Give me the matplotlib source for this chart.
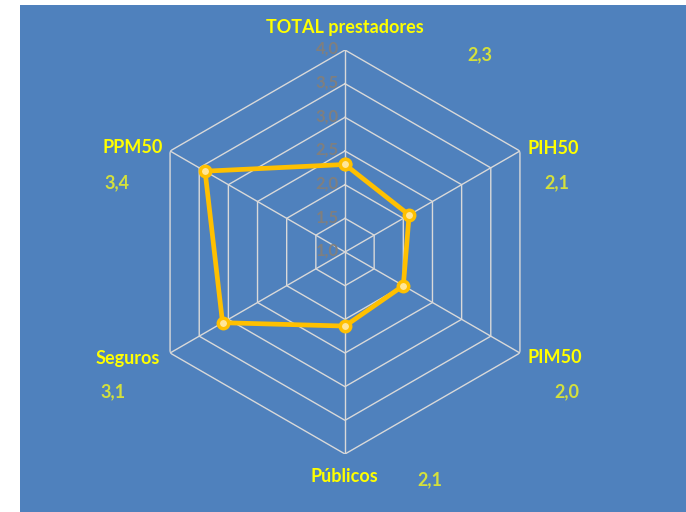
import numpy as np
import matplotlib
matplotlib.use("Agg")
import matplotlib.pyplot as plt
from matplotlib.patches import Rectangle

categories = ["TOTAL prestadores", "PIH50", "PIM50", "Públicos", "Seguros", "PPM50"]
values = [2.3, 2.1, 2.0, 2.1, 3.1, 3.4]
value_labels = ["2,3", "2,1", "2,0", "2,1", "3,1", "3,4"]
ticks = [1.0, 1.5, 2.0, 2.5, 3.0, 3.5, 4.0]
tick_labels = ["1,0", "1,5", "2,0", "2,5", "3,0", "3,5", "4,0"]

BG = "#4F81BD"
GRID = "#D9D9D9"
LINE = "#FFC000"
CAT_COLOR = "#FFFF00"
VAL_COLOR = "#D4E03C"
TICK_COLOR = "#7F7F7F"

plt.rcParams["font.family"] = ["Lato", "DejaVu Sans"]

fig = plt.figure(figsize=(6.86, 5.12), dpi=100)
fig.patches.append(Rectangle((20 / 686, 0), 666 / 686, 507 / 512,
                             transform=fig.transFigure, facecolor=BG,
                             edgecolor="none", zorder=-10))

ax = fig.add_axes([143 / 686, 58 / 512, 404 / 686, 404 / 512], projection="polar")
ax.set_zorder(1)
ax.set_theta_zero_location("N")
ax.set_theta_direction(-1)
ax.set_ylim(ticks[0], ticks[-1])
ax.patch.set_visible(False)
ax.spines["polar"].set_visible(False)
ax.grid(False)
ax.set_xticks([])
ax.set_yticks([])

n = len(categories)
angles = np.linspace(0, 2 * np.pi, n, endpoint=False)
closed = np.append(angles, angles[0])

# hexagonal grid rings and spokes
for r in ticks[1:]:
    ax.plot(closed, [r] * (n + 1), color=GRID, lw=1.0, zorder=1)
for a in angles:
    ax.plot([a, a], [ticks[0], ticks[-1]], color=GRID, lw=1.0, zorder=1)

# radial tick labels along the top spoke
for r, lab in zip(ticks, tick_labels):
    ax.annotate(lab, xy=(0, r), xytext=(-6, 1), textcoords="offset pixels",
                ha="right", va="center", fontsize=12, fontweight="bold",
                color=TICK_COLOR, zorder=2)

# data series
vals = np.append(values, values[0])
ax.plot(closed, vals, color=LINE, lw=3.4, zorder=3,
        marker="o", markersize=7.5, markerfacecolor="#FFE699",
        markeredgecolor=LINE, markeredgewidth=2.5)

# category and value labels around the outer ring
cat_offsets = [(0, 23), (33, 3), (35, -5), (-1, -22), (-42, -5), (-37, 4)]
val_offsets = [(135, -5), (37, -32), (47, -39), (85, -26), (-57, -39), (-53, -32)]
for a, cat, vl, co, vo in zip(angles, categories, value_labels, cat_offsets, val_offsets):
    ax.annotate(cat, xy=(a, ticks[-1]), xytext=co, textcoords="offset pixels",
                ha="center", va="center", fontsize=13, fontweight="bold",
                color=CAT_COLOR, annotation_clip=False)
    ax.annotate(vl, xy=(a, ticks[-1]), xytext=vo, textcoords="offset pixels",
                ha="center", va="center", fontsize=13, fontweight="bold",
                color=VAL_COLOR, annotation_clip=False)

fig.savefig("out.png", dpi=100, facecolor="white")
